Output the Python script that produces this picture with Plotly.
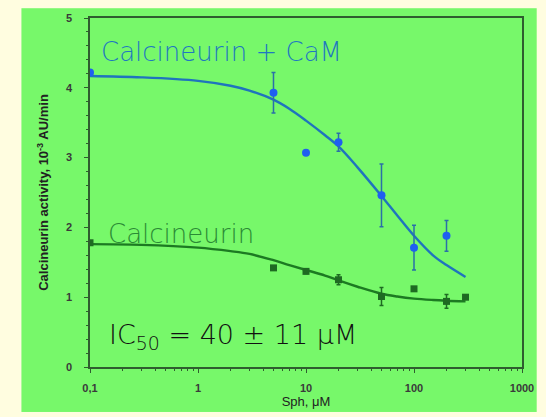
import base64
import struct
import zlib

import plotly.graph_objects as go

# Measured points: Calcineurin + CaM (blue circles)
cam_x = [0.1, 5, 10, 20, 50, 100, 200]
cam_y = [4.22, 3.93, 3.07, 3.22, 2.46, 1.71, 1.88]
cam_err = [0.0, 0.29, 0.0, 0.13, 0.45, 0.32, 0.22]

# Measured points: Calcineurin alone (green squares)
cn_x = [0.1, 5, 10, 20, 50, 100, 200, 300]
cn_y = [1.78, 1.42, 1.37, 1.25, 1.01, 1.12, 0.94, 1.00]
cn_err = [0.0, 0.03, 0.03, 0.07, 0.13, 0.0, 0.10, 0.03]

# Fitted curves
fit_x = [0.1, 0.3, 1, 2, 3, 5, 7, 10, 15, 20, 30, 50, 70, 100, 150, 200, 300]
cam_fit = [4.17, 4.15, 4.10, 4.03, 3.96, 3.83, 3.70, 3.53, 3.32, 3.16, 2.86, 2.45, 2.17, 1.88, 1.60, 1.46, 1.29]
cn_fit = [1.76, 1.75, 1.71, 1.66, 1.62, 1.53, 1.46, 1.39, 1.31, 1.24, 1.15, 1.05, 1.01, 0.98, 0.96, 0.95, 0.94]

x_tickvals = [0.1, 1, 10, 100, 1000]
x_ticktext = ["0,1", "1", "10", "100", "1000"]
y_tickvals = [0, 1, 2, 3, 4, 5]

BLUE_LINE = "#1f74bd"
BLUE_PT = "#1f5ff0"
GREEN_LINE = "#1c7a22"
GREEN_PT = "#1e6a22"
BG_GREEN = "#77f86a"
CREAM = "#fffde0"
AXIS = "#2f5d2f"


def solid_png(hex_color):
    r, g, b = (int(hex_color[i:i + 2], 16) for i in (1, 3, 5))
    raw = b"\x00" + bytes([r, g, b])

    def chunk(tag, data):
        c = struct.pack(">I", len(data)) + tag + data
        return c + struct.pack(">I", zlib.crc32(tag + data) & 0xFFFFFFFF)

    png = b"\x89PNG\r\n\x1a\n" + chunk(b"IHDR", struct.pack(">IIBBBBB", 1, 1, 8, 2, 0, 0, 0)) \
        + chunk(b"IDAT", zlib.compress(raw)) + chunk(b"IEND", b"")
    return "data:image/png;base64," + base64.b64encode(png).decode()


fig = go.Figure()

fig.add_trace(go.Scatter(x=fit_x, y=cam_fit, mode="lines", line=dict(color=BLUE_LINE, width=2.4, shape="spline"),
                         showlegend=False, hoverinfo="skip"))
fig.add_trace(go.Scatter(x=fit_x, y=cn_fit, mode="lines", line=dict(color=GREEN_LINE, width=2.4, shape="spline"),
                         showlegend=False, hoverinfo="skip"))

fig.add_trace(go.Scatter(x=cam_x, y=cam_y, mode="markers",
                         marker=dict(symbol="circle", size=8, color=BLUE_PT),
                         error_y=dict(type="data", array=cam_err, color="#2a6fa8", thickness=1.5, width=2),
                         showlegend=False))
fig.add_trace(go.Scatter(x=cn_x, y=cn_y, mode="markers",
                         marker=dict(symbol="square", size=7, color=GREEN_PT),
                         error_y=dict(type="data", array=cn_err, color=GREEN_PT, thickness=1.5, width=2),
                         showlegend=False))

# green panel (image stretched over paper area) on cream paper
fig.add_layout_image(source=solid_png(BG_GREEN), xref="paper", yref="paper",
                     x=-70 / 441, y=(371 - 4) / 357, sizex=(546 - 20) / 441, sizey=413 / 357,
                     xanchor="left", yanchor="top", sizing="stretch", layer="below")

hand = "DejaVu Sans"
fig.add_annotation(x=-0.92, y=4.52, xref="x", yref="y", text="Calcineurin + CaM", showarrow=False,
                   xanchor="left", font=dict(family=hand, size=26, weight=200, color="#1f78c0"))
fig.add_annotation(x=-0.85, y=1.9, xref="x", yref="y", text="Calcineurin", showarrow=False,
                   xanchor="left", font=dict(family=hand, size=26, weight=200, color="#2a8a35"))
fig.add_annotation(x=-0.84, y=0.43, xref="x", yref="y", text="IC<sub>50</sub> = 40 ± 11 μM", showarrow=False,
                   xanchor="left", font=dict(family=hand, size=27, weight=200, color="#111111"))

fig.update_xaxes(type="log", range=[-1, 3], tickvals=x_tickvals, ticktext=x_ticktext,
                 showline=True, linecolor=AXIS, linewidth=1.5, mirror=True, showgrid=False, zeroline=False,
                 ticks="outside", ticklen=4, tickcolor=AXIS, ticklabelstandoff=6,
                 minor=dict(ticks="outside", ticklen=2, tickcolor=AXIS, dtick="D1", showgrid=False),
                 tickfont=dict(family="Liberation Sans", size=11, weight="bold", color="#3a3a3a"),
                 title=dict(text="Sph, μM", font=dict(family="Liberation Sans", size=13, color="#222222"), standoff=2))
fig.update_yaxes(range=[0, 5], tickvals=y_tickvals,
                 showline=True, linecolor=AXIS, linewidth=1.5, mirror=True, showgrid=False, zeroline=False,
                 ticks="outside", ticklen=4, tickcolor=AXIS, ticklabelstandoff=10,
                 minor=dict(ticks="outside", ticklen=2, tickcolor=AXIS, dtick=0.2, showgrid=False),
                 tickfont=dict(family="Liberation Sans", size=11, weight="bold", color="#3a3a3a"),
                 title=dict(text="<b>Calcineurin activity, 10<sup>-3</sup> AU/min</b>",
                            font=dict(family="Liberation Sans", size=13, color="#222222"), standoff=14))

fig.update_layout(width=546, height=417, margin=dict(l=90, r=15, t=14, b=46),
                  paper_bgcolor=CREAM, plot_bgcolor="rgba(0,0,0,0)")

fig.write_html("out.html")
